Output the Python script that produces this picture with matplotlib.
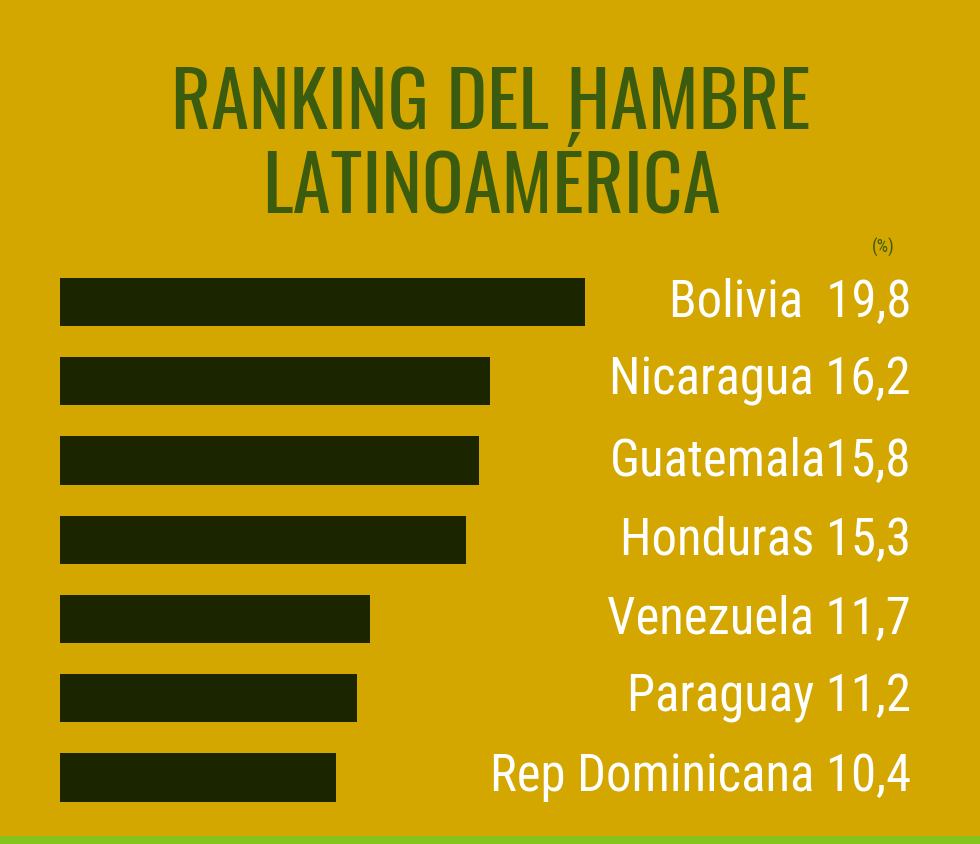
import matplotlib.pyplot as plt
from matplotlib.patches import Rectangle

# datos del ranking (% de población con hambre)
paises = ['Bolivia', 'Nicaragua', 'Guatemala', 'Honduras',
          'Venezuela', 'Paraguay', 'Rep Dominicana']
valores = [19.8, 16.2, 15.8, 15.3, 11.7, 11.2, 10.4]
separador = ['  ', ' ', '', ' ', ' ', ' ', ' ']

fondo = '#D4A600'
barra = '#1B2600'
verde = '#3B5C0E'
fuente_titulo = ['Oswald', 'DejaVu Sans']
fuente_texto = ['Roboto Condensed', 'Roboto', 'DejaVu Sans']

fig = plt.figure(figsize=(9.8, 8.44), dpi=100)
fig.patch.set_facecolor(fondo)

# titulo
fig.text(0.501, 0.874, 'RANKING DEL HAMBRE', ha='center', va='center',
         color=verde, fontsize=55.5, family=fuente_titulo)
fig.text(0.501, 0.779, 'LATINOAMÉRICA', ha='center', va='center',
         color=verde, fontsize=55.5, family=fuente_titulo)
fig.text(0.901, 0.707, '(%)', ha='center', va='center', color=verde,
         fontsize=13, family=fuente_texto)

# barras
ax = fig.add_axes([60 / 980, 0.032, 920 / 980, 0.657])
ax.set_facecolor('none')
y = list(range(len(paises)))
ax.barh(y, valores, height=0.61, color=barra, left=0)
ax.set_xlim(0, 19.8 * 920 / 525)
ax.set_ylim(len(paises) - 0.5, -0.5)
for s in ax.spines.values():
    s.set_visible(False)
ax.set_xticks([])
ax.set_yticks([])

for i in y:
    txt = paises[i] + separador[i] + f'{valores[i]:.1f}'.replace('.', ',')
    ax.text((911 - 60) / 920, i, txt, transform=ax.get_yaxis_transform(),
            ha='right', va='center', color='white', fontsize=36.5,
            family=fuente_texto)

# franja verde inferior
fig.patches.append(Rectangle((0, 0), 1, 8 / 844, transform=fig.transFigure,
                             facecolor='#84C41E', edgecolor='none'))

fig.savefig('out.png', dpi=100, facecolor=fondo)
